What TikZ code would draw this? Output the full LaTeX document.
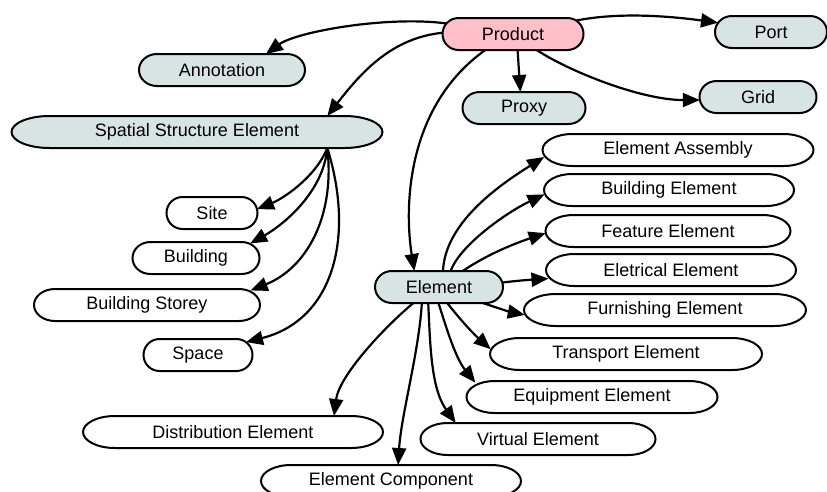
\documentclass[tikz,border=0pt]{standalone}
\usepackage{fontspec}
\setmainfont{Liberation Sans}
\usetikzlibrary{shapes.misc,arrows.meta}
\definecolor{gfill}{RGB}{216,228,228}
\definecolor{pfill}{RGB}{255,192,203}
\pgfdeclarelayer{bg}
\pgfsetlayers{bg,main}
% outline with elliptical ends: #1 node name, #2 end radius (pt), #3 fill colour
\newcommand{\capsuleoutline}[3]{%
  \begin{pgfonlayer}{bg}
    \draw[line width=2pt, fill=#3]
      ([xshift=#2pt-16pt]#1.north west) -- ([xshift=16pt-#2pt]#1.north east)
      arc[start angle=90, end angle=-90, x radius=#2pt, y radius=16pt]
      -- ([xshift=#2pt-16pt]#1.south west)
      arc[start angle=270, end angle=90, x radius=#2pt, y radius=16pt]
      -- cycle;
  \end{pgfonlayer}}
\begin{document}
\begin{tikzpicture}[x=1pt,y=-1pt,
  nd/.style={rounded rectangle, draw=none, minimum height=32pt, inner sep=0pt, outer sep=0pt, font=\fontsize{18}{21}\selectfont},
  edge/.style={line width=2.2pt, -{Triangle[length=17pt,width=14pt]}}]
\useasboundingbox (0,0) rectangle (827,491);
\clip (0,0) rectangle (827,491);
% nodes
\node[nd, minimum width=141pt] (P) at (513,34) {Product};
\node[nd, minimum width=112pt] (Port) at (771,32) {Port};
\node[nd, minimum width=166pt] (Ann) at (222,70) {Annotation};
\node[nd, minimum width=123pt] (Proxy) at (524,108) {Proxy};
\node[nd, minimum width=117pt] (Grid) at (758,97) {Grid};
\node[nd, minimum width=371pt] (SSE) at (197,132) {Spatial Structure Element};
\node[nd, minimum width=271pt] (EA) at (678,150) {Element Assembly};
\node[nd, minimum width=250pt] (BE) at (669,190) {Building Element};
\node[nd, minimum width=245pt] (FE) at (668,231) {Feature Element};
\node[nd, minimum width=250pt] (EE) at (671,270) {Eletrical Element};
\node[nd, minimum width=282pt] (FuE) at (665,310) {Furnishing Element};
\node[nd, minimum width=272pt] (TE) at (626,354) {Transport Element};
\node[nd, minimum width=251pt] (EqE) at (592,397) {Equipment Element};
\node[nd, minimum width=235pt] (VE) at (538,439) {Virtual Element};
\node[nd, minimum width=300pt] (DE) at (233,432) {Distribution Element};
\node[nd, minimum width=260pt] (EC) at (391,481) {Element Component};
\node[nd, minimum width=91pt] (Site) at (212,213) {Site};
\node[nd, minimum width=127pt] (Bldg) at (196,258) {Building};
\node[nd, minimum width=226pt] (BS) at (147,305) {Building Storey};
\node[nd, minimum width=109pt] (Space) at (198,355) {Space};
\node[nd, minimum width=128pt] (El) at (439,287) {Element};
% outlines
\capsuleoutline{P}{16}{pfill}
\capsuleoutline{Port}{17}{gfill}
\capsuleoutline{Ann}{18}{gfill}
\capsuleoutline{Proxy}{17}{gfill}
\capsuleoutline{Grid}{17}{gfill}
\capsuleoutline{SSE}{38}{gfill}
\capsuleoutline{El}{17}{gfill}
\capsuleoutline{EA}{30}{white}
\capsuleoutline{BE}{28}{white}
\capsuleoutline{FE}{28}{white}
\capsuleoutline{EE}{28}{white}
\capsuleoutline{FuE}{32}{white}
\capsuleoutline{TE}{30}{white}
\capsuleoutline{EqE}{28}{white}
\capsuleoutline{VE}{27}{white}
\capsuleoutline{DE}{32}{white}
\capsuleoutline{EC}{30}{white}
\capsuleoutline{Site}{16}{white}
\capsuleoutline{Bldg}{18}{white}
\capsuleoutline{BS}{21}{white}
\capsuleoutline{Space}{16}{white}
% edges from Product
\draw[edge] (P.171) .. controls +(-60,-8) and +(30,-22) .. (Ann.20);
\draw[edge] (P.179) .. controls +(-50,5) and +(35,-45) .. (SSE.7.3);
\draw[edge] (P.12) .. controls +(45,-9) and +(-45,-6) .. (Port.170);
\draw[edge] (P.286) -- (Proxy.103);
\draw[edge] (P.326) .. controls +(30,20) and +(-60,0) .. (Grid.183);
\draw[edge] (P.210) .. controls +(-80,57) and +(-10,-62) .. (El.147);
% edges from Spatial Structure Element
\draw[edge] (SSE.-7.3) .. controls +(-12,30) and +(25,-10) .. (Site.5);
\draw[edge] (SSE.-7.3) .. controls +(-4,45) and +(32,-18) .. (Bldg.15);
\draw[edge] (SSE.-7.3) .. controls +(8,70) and +(55,-22) .. (BS.8);
\draw[edge] (SSE.-7.3) .. controls +(28,90) and +(87,-22) .. (Space.15);
% edges from Element
\draw[edge] (El.76) .. controls +(2,-47) and +(-48,30) .. (EA.183);
\draw[edge] (El.54) .. controls +(10,-27) and +(-36,17) .. (BE.182);
\draw[edge] (El.34) .. controls +(25,-17) and +(-30,10) .. (FE.181);
\draw[edge] (El.4) .. controls +(15,-2) and +(-15,1) .. (EE.184);
\draw[edge] (El.340) .. controls +(15,5) and +(-15,-3) .. (FuE.182);
\draw[edge] (El.297) .. controls +(12,15) and +(-20,-18) .. (TE.178);
\draw[edge] (El.268) .. controls +(8,25) and +(-20,-25) .. (EqE.173);
\draw[edge] (El.236) .. controls +(2,40) and +(-25,-35) .. (VE.169);
\draw[edge] (El.223) .. controls +(-3,50) and +(3,-50) .. (EC.66);
\draw[edge] (El.212) .. controls +(-30,25) and +(5,-40) .. (DE.9);
\end{tikzpicture}
\end{document}
